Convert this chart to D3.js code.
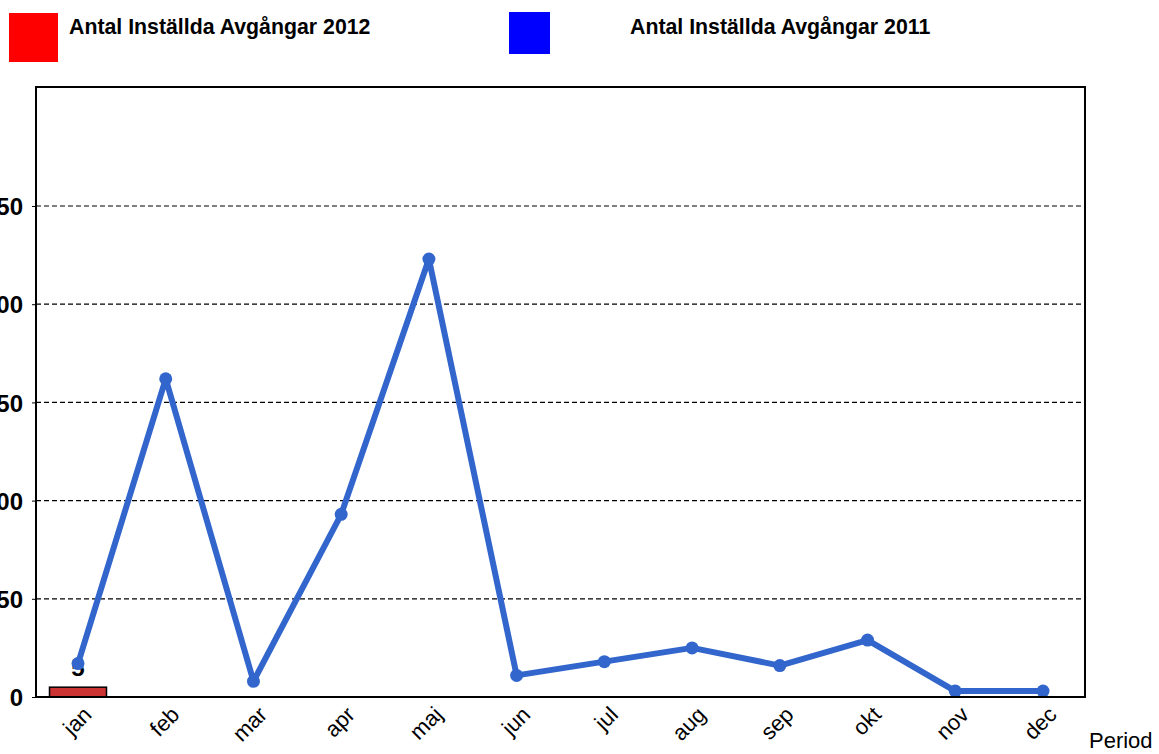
<!DOCTYPE html>
<html><head><meta charset="utf-8">
<script src="https://cdn.jsdelivr.net/npm/d3@7"></script>
<style>body{margin:0;background:#fff;}svg{display:block;font-family:"Liberation Sans",Arial,sans-serif;}</style>
</head><body>
<svg id="c" width="1159" height="754"></svg>
<script>
const months = ["jan","feb","mar","apr","maj","jun","jul","aug","sep","okt","nov","dec"];
const values2011 = [17,162,8,93,223,11,18,25,16,29,3,3];
const values2012 = [5,null,null,null,null,null,null,null,null,null,null,null];
const yTicks = [0,50,100,150,200,250];
const legendLabels = ["Antal Inställda Avgångar 2012","Antal Inställda Avgångar 2011"];
const xTitle = "Period";

const svg = d3.select("#c");
const m = {l:36, t:87, r:1085, b:697};
const xc = d3.scalePoint().domain(months).range([78,1043]);
const y = d3.scaleLinear().domain([0,310.6]).range([m.b, m.t]);

// grid
svg.append("g").selectAll("line").data(yTicks.filter(d=>d>0)).join("line")
  .attr("x1",m.l).attr("x2",m.r).attr("y1",d=>y(d)).attr("y2",d=>y(d))
  .attr("stroke","#000").attr("stroke-width",1.2).attr("stroke-dasharray","5,3");

// y axis
const ya = svg.append("g").attr("transform",`translate(${m.l},0)`)
  .call(d3.axisLeft(y).tickValues(yTicks).tickSize(4).tickPadding(9));
ya.select(".domain").remove();
ya.selectAll("line").attr("stroke","#000");
ya.selectAll("text").attr("font-size",24).attr("font-weight","bold").attr("fill","#000")
  .attr("font-family","Liberation Sans, Arial, sans-serif").attr("dy","0.36em");

// bars 2012
const barW = 57;
const d2012 = months.map((mo,i)=>({mo,v:values2012[i]})).filter(d=>d.v!=null);
svg.append("g").selectAll("rect").data(d2012).join("rect")
  .attr("x",d=>xc(d.mo)-barW/2).attr("width",barW)
  .attr("y",d=>y(d.v)).attr("height",d=>y(0)-y(d.v))
  .attr("fill","#cc3333").attr("stroke","#000").attr("stroke-width",1.5);
svg.append("g").selectAll("text").data(d2012).join("text")
  .attr("x",d=>xc(d.mo)).attr("y",d=>y(d.v)-11)
  .attr("text-anchor","middle").attr("font-size",24).attr("font-weight","bold").text(d=>d.v);

// line 2011
const line = d3.line().x((d,i)=>xc(months[i])).y(d=>y(d));
svg.append("path").datum(values2011).attr("d",line).attr("fill","none")
  .attr("stroke","#3366cc").attr("stroke-width",6).attr("stroke-linejoin","round");
svg.append("g").selectAll("circle").data(values2011).join("circle")
  .attr("cx",(d,i)=>xc(months[i])).attr("cy",d=>y(d)).attr("r",6.5).attr("fill","#3366cc");

// frame
svg.append("rect").attr("x",m.l).attr("y",m.t).attr("width",m.r-m.l).attr("height",m.b-m.t)
  .attr("fill","none").attr("stroke","#000").attr("stroke-width",2);

// x labels
svg.append("g").selectAll("text").data(months).join("text")
  .attr("transform",d=>`translate(${xc(d)+15},${716}) rotate(-45)`)
  .attr("text-anchor","end").attr("font-size",22).attr("fill","#000").text(d=>d);
svg.append("text").attr("x",1089).attr("y",748).attr("font-size",22).text(xTitle);

// legend
const lg = [{c:"#ff0000",x:9,y:13,w:49,h:49,tx:69},{c:"#0000ff",x:509,y:12,w:41,h:42,tx:630}];
lg.forEach((l,i)=>{
  svg.append("rect").attr("x",l.x).attr("y",l.y).attr("width",l.w).attr("height",l.h).attr("fill",l.c);
  svg.append("text").attr("x",l.tx).attr("y",34).attr("font-size",21.3).attr("font-weight","bold").text(legendLabels[i]);
});
</script>
</body></html>
